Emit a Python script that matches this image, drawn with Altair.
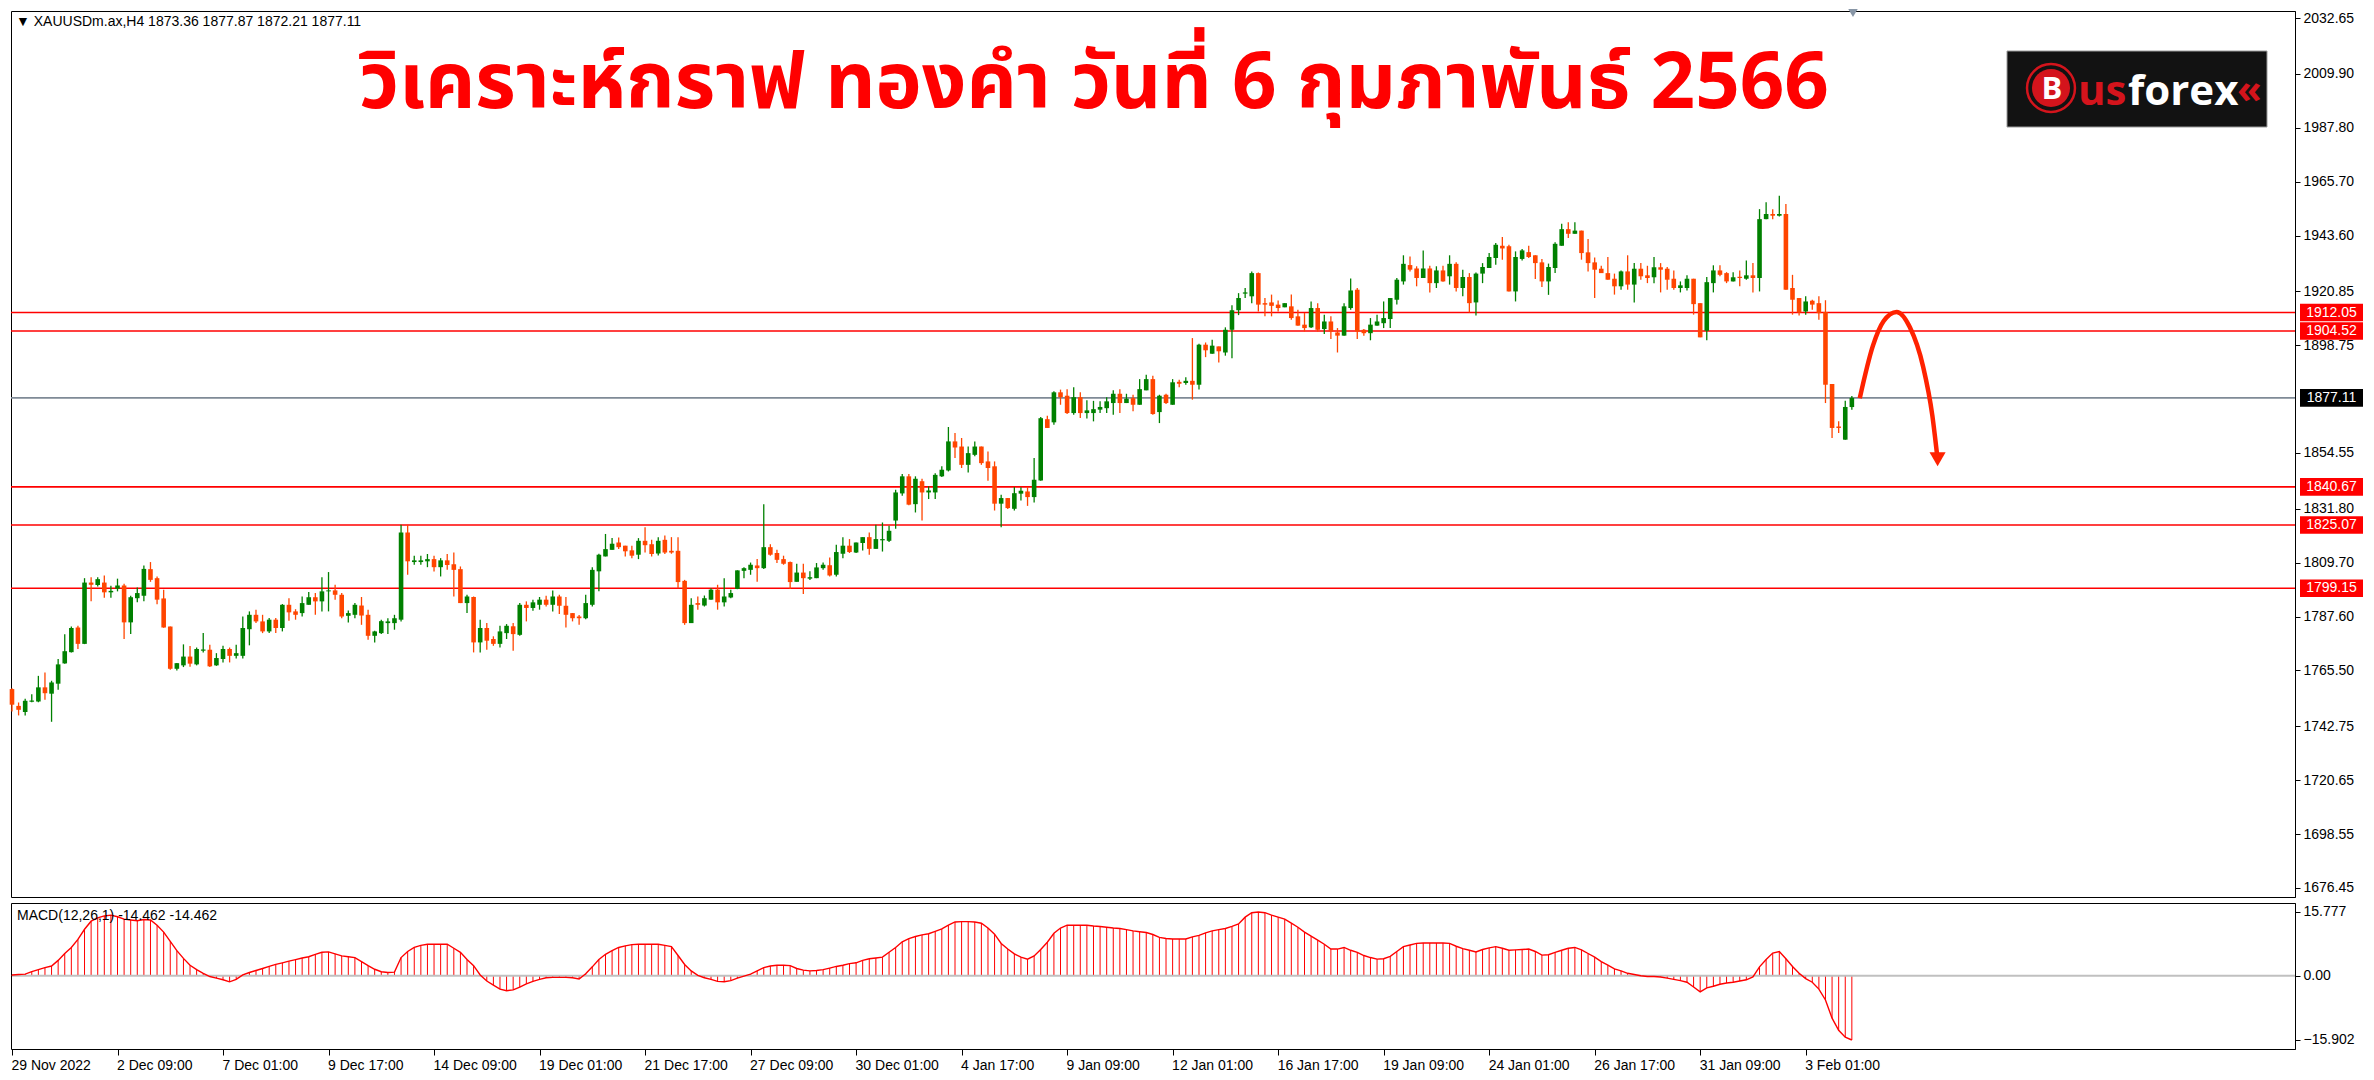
import altair as alt
import pandas as pd

# ---------------- data ----------------
opens = [1757.9,1751.0,1748.5,1752.7,1752.8,1758.6,1756.0,1760.1,1768.4,1773.0,
1783.1,1776.4,1801.5,1800.5,1801.5,1797.5,1799.0,1800.3,1785.2,1795.1,
1796.1,1807.0,1803.3,1795.0,1783.5,1766.2,1767.6,1771.2,1768.0,1773.6,
1774.0,1767.6,1770.2,1774.3,1771.5,1771.5,1782.4,1788.3,1785.6,1781.5,
1786.3,1782.9,1792.4,1789.7,1789.0,1792.4,1795.5,1793.8,1797.9,1798.3,
1796.5,1787.9,1788.3,1792.1,1788.3,1779.7,1780.8,1784.9,1784.9,1786.3,
1822.0,1809.9,1809.9,1810.2,1811.1,1807.8,1810.6,1809.0,1807.0,1793.1,
1795.6,1777.0,1782.9,1778.4,1776.4,1780.8,1783.6,1780.1,1792.4,1791.1,
1792.4,1794.5,1792.4,1795.8,1792.0,1789.0,1787.6,1786.9,1792.4,1806.1,
1812.2,1814.9,1817.9,1816.6,1814.7,1812.9,1818.6,1817.2,1813.4,1819.0,
1814.5,1814.5,1802.2,1784.9,1793.1,1792.1,1794.5,1798.6,1793.4,1795.4,
1798.9,1806.3,1806.7,1808.5,1807.4,1816.0,1813.6,1811.1,1809.9,1801.8,
1805.6,1803.1,1803.3,1807.4,1808.6,1804.7,1813.3,1816.6,1813.8,1817.7,
1820.1,1815.3,1818.8,1818.6,1826.9,1838.0,1845.0,1833.6,1843.0,1838.4,
1838.4,1845.0,1847.4,1859.3,1857.2,1849.7,1853.8,1857.2,1851.1,1849.1,
1833.8,1836.1,1831.7,1837.9,1838.8,1836.5,1843.3,1868.4,1867.1,1879.4,
1878.0,1870.9,1877.4,1870.9,1870.9,1872.3,1872.9,1875.0,1878.8,1875.0,
1877.0,1874.3,1880.2,1884.8,1871.3,1878.4,1874.3,1883.7,1883.2,1884.1,
1882.5,1898.9,1895.2,1898.2,1895.7,1905.0,1913.0,1919.8,1918.7,1928.2,
1915.9,1916.2,1915.3,1914.2,1914.6,1910.5,1907.1,1906.0,1913.9,1905.3,
1908.4,1903.9,1902.6,1913.9,1921.4,1905.0,1903.6,1906.7,1907.7,1909.4,
1917.3,1924.8,1931.5,1930.1,1926.2,1930.1,1924.1,1929.3,1926.9,1932.0,
1922.1,1926.6,1916.2,1928.0,1930.3,1934.4,1939.4,1939.2,1920.7,1934.0,
1936.8,1935.5,1932.6,1924.8,1930.3,1939.4,1946.2,1944.3,1945.6,1936.7,
1932.6,1930.0,1928.2,1925.9,1922.8,1928.9,1923.5,1930.0,1927.3,1926.5,
1930.6,1930.0,1925.9,1922.1,1922.1,1925.9,1915.9,1904.6,1924.1,1929.3,
1928.2,1924.8,1926.7,1925.9,1927.3,1926.2,1950.3,1952.4,1951.7,1952.4,
1922.1,1918.0,1912.5,1916.9,1915.9,1912.3,1882.8,1865.4,1860.0,1873.36]

highs = [1758.2,1752.4,1753.9,1755.8,1763.3,1764.7,1761.3,1770.2,1780.3,1783.5,
1783.8,1803.3,1803.7,1803.7,1804.4,1800.2,1803.1,1801.0,1796.1,1799.5,
1808.5,1809.9,1804.0,1798.6,1783.5,1768.6,1776.2,1775.5,1774.9,1780.8,
1776.0,1772.6,1775.6,1774.9,1776.0,1787.6,1789.7,1790.4,1788.3,1787.0,
1787.0,1792.7,1795.1,1790.6,1795.8,1797.6,1797.2,1803.7,1805.8,1800.6,
1797.2,1790.1,1793.1,1795.6,1790.4,1781.8,1786.3,1786.9,1788.3,1825.2,
1825.2,1812.5,1812.5,1813.2,1812.5,1811.5,1813.2,1813.8,1808.1,1796.5,
1795.8,1786.3,1784.9,1779.5,1783.8,1784.5,1784.9,1793.1,1793.8,1794.5,
1795.6,1796.1,1798.3,1796.5,1795.6,1789.0,1788.2,1796.5,1807.8,1813.3,
1821.4,1819.7,1820.0,1816.6,1816.6,1819.7,1824.2,1819.0,1820.1,1820.8,
1820.1,1820.1,1802.6,1795.1,1795.8,1796.2,1799.2,1800.6,1803.3,1798.6,
1806.5,1807.8,1809.7,1811.1,1833.6,1817.2,1814.9,1812.5,1810.1,1809.2,
1809.2,1806.1,1809.5,1809.7,1811.8,1817.0,1820.1,1819.3,1817.9,1820.1,
1822.0,1825.2,1826.1,1824.8,1839.5,1846.0,1846.0,1845.0,1844.0,1840.9,
1846.3,1849.1,1865.2,1862.7,1860.7,1857.2,1859.3,1857.2,1855.2,1851.1,
1837.5,1836.1,1840.6,1840.5,1840.6,1852.5,1869.3,1869.8,1879.8,1880.5,
1880.7,1881.5,1879.4,1876.1,1875.9,1875.7,1877.4,1880.2,1880.7,1878.8,
1878.4,1884.8,1886.6,1886.2,1878.4,1878.8,1884.8,1884.5,1885.6,1901.6,
1899.3,1899.8,1900.9,1898.2,1906.0,1915.0,1920.0,1922.1,1928.9,1928.5,
1918.0,1919.4,1917.0,1915.9,1919.4,1913.2,1911.9,1916.6,1915.9,1911.2,
1910.5,1905.7,1915.9,1926.0,1922.1,1905.3,1909.8,1911.2,1916.6,1918.0,
1926.2,1935.5,1935.0,1931.0,1937.5,1931.2,1931.0,1931.2,1935.5,1932.6,
1929.6,1928.2,1928.5,1932.3,1936.4,1940.5,1943.0,1939.8,1937.1,1938.1,
1939.4,1935.5,1934.0,1932.1,1940.8,1948.4,1949.0,1949.0,1945.6,1942.2,
1934.6,1931.2,1934.8,1928.0,1929.3,1935.5,1932.3,1932.3,1931.2,1934.8,
1932.3,1930.7,1929.3,1924.8,1927.3,1925.9,1915.9,1926.6,1931.4,1931.4,
1928.6,1928.6,1929.3,1933.4,1932.3,1954.4,1957.2,1954.4,1959.9,1956.5,
1927.5,1918.0,1918.7,1917.3,1918.7,1917.1,1882.8,1867.5,1875.9,1877.87]

lows = [1748.7,1747.1,1747.1,1752.5,1752.5,1753.5,1744.5,1757.6,1768.3,1772.9,
1774.3,1776.3,1793.9,1799.9,1795.3,1795.3,1797.9,1778.4,1780.4,1793.4,
1793.9,1801.8,1792.6,1783.0,1765.8,1765.5,1766.9,1767.0,1767.6,1772.9,
1766.9,1767.4,1768.8,1768.8,1770.4,1770.4,1775.8,1784.9,1780.8,1780.8,
1780.8,1781.5,1785.9,1786.3,1787.6,1792.4,1788.3,1789.7,1789.7,1794.5,
1786.9,1785.2,1786.9,1784.2,1778.1,1777.0,1780.4,1780.4,1782.2,1785.6,
1804.7,1808.8,1808.8,1807.8,1806.0,1804.0,1806.7,1795.8,1793.1,1789.0,
1772.9,1772.9,1774.0,1775.6,1774.9,1778.4,1773.6,1779.7,1785.6,1790.0,
1790.4,1791.7,1789.7,1788.6,1783.1,1785.6,1784.2,1786.5,1791.7,1797.9,
1812.2,1814.9,1815.2,1812.2,1811.5,1811.1,1813.8,1812.2,1812.6,1813.2,
1813.3,1799.2,1784.2,1784.9,1790.4,1791.7,1794.5,1790.4,1791.7,1795.1,
1798.8,1803.3,1804.7,1801.8,1807.1,1812.5,1809.5,1808.8,1798.9,1801.8,
1796.8,1802.6,1803.3,1806.7,1804.0,1804.0,1811.5,1813.6,1813.6,1814.6,
1812.9,1815.3,1814.2,1818.1,1823.5,1837.0,1833.2,1830.2,1826.9,1835.7,
1835.7,1844.7,1847.0,1852.5,1848.4,1846.6,1853.2,1849.7,1843.2,1831.0,
1824.2,1831.6,1831.0,1835.1,1832.9,1834.3,1843.2,1864.8,1866.1,1874.3,
1870.5,1870.2,1868.9,1868.7,1867.5,1870.9,1870.9,1870.2,1870.9,1875.0,
1871.6,1874.3,1880.2,1870.2,1866.8,1874.6,1874.3,1881.5,1882.5,1876.4,
1880.5,1893.8,1895.2,1891.6,1894.4,1893.3,1911.0,1918.0,1915.9,1912.5,
1910.5,1910.5,1912.5,1914.2,1909.1,1906.7,1904.3,1905.7,1904.3,1903.3,
1901.2,1895.7,1902.6,1913.2,1901.2,1902.6,1900.7,1906.7,1905.7,1905.7,
1915.3,1923.5,1928.9,1922.8,1926.2,1920.3,1922.1,1924.7,1923.5,1920.7,
1918.7,1912.1,1910.8,1924.1,1930.3,1931.6,1933.7,1920.7,1916.6,1933.4,
1934.4,1925.8,1922.5,1919.3,1928.2,1939.4,1942.6,1944.3,1933.7,1928.9,
1918.0,1928.2,1925.5,1919.4,1921.4,1921.4,1916.2,1925.5,1924.1,1924.1,
1920.3,1921.4,1921.4,1920.3,1921.1,1911.2,1901.9,1900.7,1920.3,1926.9,
1924.1,1924.8,1922.8,1925.5,1920.3,1920.7,1950.3,1950.3,1951.4,1921.4,
1911.2,1910.8,1911.2,1913.2,1909.1,1875.0,1860.7,1862.7,1860.0,1872.21]

closes = [1751.5,1749.4,1753.1,1753.2,1758.6,1756.2,1760.6,1768.0,1773.4,1782.9,
1776.4,1801.5,1800.6,1802.9,1797.5,1798.1,1800.3,1785.2,1795.5,1797.2,
1807.1,1802.6,1794.5,1783.1,1766.2,1768.5,1771.2,1768.3,1774.3,1774.1,
1767.2,1770.6,1774.3,1771.5,1772.6,1782.9,1788.3,1785.6,1781.5,1786.3,
1782.9,1792.4,1789.3,1788.3,1793.1,1795.5,1793.8,1797.9,1798.3,1796.5,
1787.6,1789.0,1792.4,1788.0,1779.7,1781.5,1785.7,1785.6,1786.9,1822.0,
1810.2,1810.6,1810.6,1811.1,1807.8,1810.6,1808.7,1806.7,1793.1,1795.8,
1777.0,1782.9,1777.7,1776.4,1781.5,1783.8,1780.4,1792.4,1791.1,1793.4,
1794.5,1792.4,1795.8,1792.0,1788.3,1786.9,1786.9,1793.1,1806.7,1812.9,
1815.2,1817.4,1816.0,1814.3,1812.5,1818.6,1816.8,1813.2,1818.6,1813.8,
1813.8,1801.7,1784.9,1792.4,1792.4,1795.1,1798.6,1793.4,1795.8,1797.2,
1806.5,1807.4,1808.8,1807.4,1816.0,1812.9,1810.8,1809.2,1801.7,1805.6,
1803.3,1803.7,1807.7,1808.8,1804.4,1814.0,1816.6,1814.0,1817.9,1820.1,
1815.3,1819.3,1819.3,1822.7,1838.4,1845.0,1833.4,1844.0,1838.4,1839.2,
1845.6,1847.7,1859.3,1856.8,1849.7,1854.5,1857.2,1850.4,1848.4,1833.8,
1836.1,1832.0,1838.1,1839.1,1836.5,1843.6,1868.8,1864.8,1879.4,1877.4,
1870.9,1877.4,1870.9,1872.0,1872.5,1873.4,1875.7,1878.8,1875.0,1876.8,
1874.3,1880.7,1884.8,1870.5,1878.0,1875.0,1883.5,1882.9,1884.1,1882.5,
1898.9,1896.6,1898.5,1896.2,1905.0,1913.0,1918.0,1920.3,1928.2,1915.3,
1915.3,1914.8,1913.9,1915.9,1909.8,1906.7,1905.7,1913.9,1905.0,1908.4,
1904.3,1902.6,1914.6,1921.1,1904.3,1903.6,1907.1,1908.4,1909.8,1918.0,
1925.5,1932.0,1929.6,1926.2,1930.1,1924.1,1929.3,1924.8,1932.0,1922.1,
1926.6,1915.9,1928.0,1930.7,1934.8,1939.8,1938.3,1920.7,1934.8,1937.5,
1934.8,1932.3,1924.8,1930.7,1940.2,1946.2,1944.3,1945.6,1936.4,1932.3,
1929.6,1928.2,1925.5,1922.8,1928.9,1923.5,1930.0,1926.9,1926.2,1930.6,
1929.6,1925.5,1922.1,1923.2,1925.9,1915.5,1901.9,1924.5,1929.3,1927.5,
1924.8,1926.5,1926.2,1927.3,1926.2,1950.3,1952.4,1951.7,1952.4,1921.4,
1917.3,1912.1,1916.6,1915.3,1911.8,1882.5,1864.8,1864.8,1873.4,1877.11]

macd_values = [0.2,0.3,0.4,1.0,1.5,2.0,2.4,3.8,5.5,7.0,
9.0,11.5,13.5,14.3,14.8,15.0,14.6,14.0,13.8,13.6,
13.9,13.8,12.5,10.8,8.5,6.2,4.3,2.6,1.5,0.6,
-0.2,-0.6,-1.0,-1.5,-0.9,0.2,0.8,1.3,1.8,2.3,
2.8,3.2,3.6,4.0,4.4,4.7,5.3,5.8,5.9,5.4,
4.9,4.7,4.5,3.5,2.5,1.6,1.0,0.8,0.9,4.5,
6.0,7.0,7.5,7.8,7.8,7.8,7.8,6.8,5.8,4.0,
2.5,0.2,-1.3,-2.3,-3.3,-3.7,-3.5,-2.8,-2.0,-1.4,
-0.9,-0.5,-0.4,-0.4,-0.4,-0.5,-0.8,0.5,2.2,4.0,
5.3,6.2,7.0,7.4,7.7,7.8,7.8,7.8,7.8,7.5,
7.2,5.0,2.8,1.2,0.1,-0.5,-0.9,-1.4,-1.5,-1.2,
-0.6,-0.1,0.4,1.2,2.0,2.4,2.6,2.6,2.5,1.8,
1.4,1.2,1.3,1.5,1.9,2.3,2.6,3.0,3.2,3.8,
4.2,4.4,4.6,5.8,7.0,8.4,9.2,9.7,10.1,10.4,
11.0,11.6,12.5,13.3,13.4,13.4,13.3,13.0,11.8,10.3,
8.0,6.6,5.4,4.6,4.1,4.9,6.5,8.3,10.5,11.8,
12.5,12.5,12.5,12.5,12.3,12.2,12.0,11.8,11.7,11.4,
11.1,10.9,10.7,10.2,9.5,9.2,9.1,9.1,9.1,9.6,
10.0,10.6,11.1,11.4,11.7,12.2,12.8,14.5,15.6,15.777,
15.6,15.0,14.5,14.0,13.0,12.0,10.8,9.8,8.8,7.8,
6.6,6.6,7.0,6.3,5.8,5.0,4.5,4.1,4.2,4.8,
6.0,7.2,7.6,8.0,8.1,8.1,8.1,8.1,8.0,7.3,
6.7,6.3,5.9,6.5,6.9,7.2,6.8,6.3,6.4,6.5,
6.6,6.0,5.1,5.2,5.8,6.3,6.8,7.0,6.4,5.5,
4.6,3.5,2.6,1.7,1.2,0.6,0.3,0.0,-0.2,-0.2,
-0.3,-0.6,-0.9,-1.2,-1.6,-2.8,-4.0,-3.0,-2.6,-2.1,
-1.8,-1.6,-1.3,-1.0,-0.3,2.2,4.0,5.6,6.0,4.2,
2.3,0.6,-0.7,-1.6,-3.3,-6.0,-10.5,-13.5,-15.2,-15.902]

red_levels = [1912.05, 1904.52, 1840.67, 1825.07, 1799.15]
current_price = 1877.11
price_ticks = [2032.65, 2009.90, 1987.80, 1965.70, 1943.60, 1920.85, 1898.75,
               1854.55, 1831.80, 1809.70, 1787.60, 1765.50, 1742.75, 1720.65,
               1698.55, 1676.45]
macd_ticks = [15.777, 0.0, -15.902]
date_tick_bars = [0, 16, 32, 48, 64, 80, 96, 112, 128, 144, 160, 176, 192, 208, 224, 240, 256, 272]
date_tick_labels = ["29 Nov 2022", "2 Dec 09:00", "7 Dec 01:00", "9 Dec 17:00", "14 Dec 09:00",
                    "19 Dec 01:00", "21 Dec 17:00", "27 Dec 09:00", "30 Dec 01:00", "4 Jan 17:00",
                    "9 Jan 09:00", "12 Jan 01:00", "16 Jan 17:00", "19 Jan 09:00", "24 Jan 01:00",
                    "26 Jan 17:00", "31 Jan 09:00", "3 Feb 01:00"]
arrow_bar = [280.2, 282.2, 283.8, 285.8, 287.8, 289.8, 291.2, 292.0]
arrow_price = [1877.0, 1898.5, 1908.5, 1912.3, 1906.0, 1890.0, 1870.0, 1852.0]

title_text = "วิเคราะห์กราฟ ทองคำ วันที่ 6 กุมภาพันธ์ 2566"
header_text = "\u25BC XAUUSDm.ax,H4  1873.36 1877.87 1872.21 1877.11"
macd_text = "MACD(12,26,1) -14.462 -14.462"

# ---------------- layout ----------------
W = 2284
H1 = 886
H2 = 146
AXFONT = "Liberation Sans"
GREEN = "#008000"
ORANGE = "#ff4500"
RED = "#ff0000"

df = pd.DataFrame({"i": list(range(len(opens))), "o": opens, "h": highs, "l": lows, "c": closes})
df["col"] = [GREEN if c >= o else ORANGE for o, c in zip(opens, closes)]

xscale = alt.Scale(domain=[-0.15, 346.2], nice=False, zero=False)
yscale = alt.Scale(domain=[1672.76, 2035.52], nice=False, zero=False)

y_axis_main = alt.Axis(orient="right", values=price_ticks, labelExpr="format(datum.value, '.2f')",
                       grid=False, tickSize=5, tickColor="#000", domainColor="#000", title=None,
                       labelFont=AXFONT, labelFontSize=14, labelColor="#000", labelPadding=3)

one = pd.DataFrame({"k": [0]})

levels_df = pd.DataFrame({"p": red_levels + [current_price]})
levels_df["line_col"] = [RED] * len(red_levels) + ["#7f8a96"]
levels_df["tag_col"] = [RED] * len(red_levels) + ["#000000"]

level_lines = alt.Chart(levels_df).mark_rule(strokeWidth=1.6).encode(
    y=alt.Y("p:Q", scale=yscale, title=None, axis=y_axis_main),
    color=alt.Color("line_col:N", scale=None),
)

wicks = alt.Chart(df).mark_rule(strokeWidth=1.3).encode(
    x=alt.X("i:Q", scale=xscale, axis=None, title=None),
    y=alt.Y("l:Q", scale=yscale, title=None, axis=y_axis_main),
    y2="h:Q",
    color=alt.Color("col:N", scale=None),
)
bodies = alt.Chart(df).mark_rule(strokeWidth=4.6, strokeCap="butt").encode(
    x=alt.X("i:Q", scale=xscale, axis=None, title=None),
    y=alt.Y("o:Q", scale=yscale, title=None, axis=y_axis_main),
    y2="c:Q",
    color=alt.Color("col:N", scale=None),
)

arrow_df = pd.DataFrame({"i": arrow_bar, "p": arrow_price})
arrow_line = alt.Chart(arrow_df).mark_line(color="#ff2200", strokeWidth=4.5, interpolate="monotone").encode(
    x=alt.X("i:Q", scale=xscale, axis=None, title=None),
    y=alt.Y("p:Q", scale=yscale, title=None, axis=y_axis_main),
)
arrow_head = alt.Chart(arrow_df.tail(1)).mark_point(shape="triangle-down", filled=True, color="#ff2200",
                                                    size=260, opacity=1).encode(
    x=alt.X("i:Q", scale=xscale, axis=None, title=None),
    y=alt.Y("p:Q", scale=yscale, title=None, axis=y_axis_main),
)

shift_mark = alt.Chart(one).mark_point(shape="triangle-down", filled=True, color="#8896a6",
                                       size=90, opacity=1).encode(
    x=alt.value(1842), y=alt.value(2))

header = alt.Chart(one).mark_text(align="left", baseline="middle", font=AXFONT, fontSize=14,
                                  color="#000").encode(
    x=alt.value(5), y=alt.value(11), text=alt.value(header_text))

title = alt.Chart(one).mark_text(align="center", baseline="middle",
                                 font="Noto Sans Thai, Noto Sans, sans-serif", fontSize=78,
                                 fontWeight="bold", color="#ff0000").encode(
    x=alt.value(1083), y=alt.value(74), text=alt.value(title_text))

logo_box = alt.Chart(one).mark_rect(color="#121212", stroke="#9a9a9a", strokeWidth=1).encode(
    x=alt.value(1996), x2=alt.value(2256), y=alt.value(40), y2=alt.value(116))
logo_circle = alt.Chart(one).mark_point(shape="circle", filled=True, color="#d4141c", size=1450,
                                        opacity=1).encode(x=alt.value(2040), y=alt.value(77))
logo_ring = alt.Chart(one).mark_point(shape="circle", filled=False, color="#d4141c", size=2300,
                                      strokeWidth=2.5, opacity=1).encode(x=alt.value(2040), y=alt.value(77))
logo_b = alt.Chart(one).mark_text(align="center", baseline="middle", font="Open Sans", fontSize=31,
                                  fontWeight="bold", color="#ffffff").encode(
    x=alt.value(2041), y=alt.value(79), text=alt.value("B"))
logo_us = alt.Chart(one).mark_text(align="left", baseline="alphabetic", font="Open Sans", fontSize=42,
                                   fontWeight="bold", color="#d4141c").encode(
    x=alt.value(2067), y=alt.value(94), text=alt.value("us"))
logo_forex = alt.Chart(one).mark_text(align="left", baseline="alphabetic", font="Open Sans", fontSize=42,
                                      fontWeight="bold", color="#ffffff").encode(
    x=alt.value(2117), y=alt.value(94), text=alt.value("forex"))
logo_chev = alt.Chart(one).mark_text(align="left", baseline="alphabetic", font="Open Sans", fontSize=40,
                                     fontWeight="bold", color="#d4141c").encode(
    x=alt.value(2226), y=alt.value(92), text=alt.value("\u00AB"))

tag_base = alt.Chart(levels_df).transform_calculate(
    lo="datum.p - 3.6", hi="datum.p + 3.6", lab="format(datum.p, '.2f')")
tag_rect = tag_base.mark_rect().encode(
    x=alt.value(W + 5), x2=alt.value(W + 68),
    y=alt.Y("lo:Q", scale=yscale, title=None, axis=y_axis_main), y2="hi:Q",
    color=alt.Color("tag_col:N", scale=None))
tag_text = tag_base.mark_text(align="center", baseline="middle", font=AXFONT, fontSize=14,
                              color="#ffffff").encode(
    x=alt.value(W + 36.5), y=alt.Y("p:Q", scale=yscale, title=None, axis=y_axis_main), text="lab:N")

main = alt.layer(
    level_lines, wicks, bodies, arrow_line, arrow_head, shift_mark, header, title,
    logo_box, logo_ring, logo_circle, logo_b, logo_us, logo_forex, logo_chev, tag_rect, tag_text
).properties(width=W, height=H1)

# ---------------- MACD panel ----------------
mdf = pd.DataFrame({"i": list(range(len(macd_values))), "m": macd_values, "zero": [0.0] * len(macd_values)})
mscale = alt.Scale(domain=[-18.13, 18.0], nice=False, zero=False)

label_expr = ""
for b, lab in zip(date_tick_bars, date_tick_labels):
    label_expr += f"datum.value == {b} ? '{lab}' : "
label_expr += "''"

x_axis_macd = alt.Axis(orient="bottom", values=date_tick_bars, labelExpr=label_expr, title=None,
                       labelAlign="left", labelOffset=-1, labelFlush=False, labelOverlap=False,
                       labelBound=False, grid=False, domain=False, tickSize=6, tickColor="#000",
                       labelFont=AXFONT, labelFontSize=14, labelColor="#000", labelPadding=3)
y_axis_macd = alt.Axis(orient="right", values=macd_ticks, title=None,
                       labelExpr="datum.value == 0 ? '0.00' : format(datum.value, '.3f')",
                       grid=False, tickSize=5, tickColor="#000", domainColor="#000",
                       labelFont=AXFONT, labelFontSize=14, labelColor="#000", labelPadding=3)

macd_base = alt.Chart(mdf)
zero_line = macd_base.mark_rule(color="#c0c0c0", strokeWidth=2).encode(
    x=alt.X("min(i):Q", scale=xscale, axis=x_axis_macd, title=None),
    x2=alt.value(W),
    y=alt.Y("min(zero):Q", scale=mscale, axis=y_axis_macd, title=None),
)
macd_bars = macd_base.mark_rule(color=RED, strokeWidth=1).encode(
    x=alt.X("i:Q", scale=xscale, axis=x_axis_macd, title=None),
    y=alt.Y("m:Q", scale=mscale, axis=y_axis_macd, title=None),
    y2="zero:Q",
)
macd_line = macd_base.mark_line(color=RED, strokeWidth=1.4).encode(
    x=alt.X("i:Q", scale=xscale, axis=x_axis_macd, title=None),
    y=alt.Y("m:Q", scale=mscale, axis=y_axis_macd, title=None),
)
macd_label = alt.Chart(one).mark_text(align="left", baseline="middle", font=AXFONT, fontSize=14,
                                      color="#000").encode(
    x=alt.value(6), y=alt.value(13), text=alt.value(macd_text))

macd_panel = alt.layer(macd_bars, zero_line, macd_line, macd_label).properties(width=W, height=H2)

chart = alt.vconcat(main, macd_panel, spacing=4).properties(
    padding=0, background="#ffffff"
).configure_view(stroke="#000000", strokeWidth=1)

chart.save("out.html", embed_options={"renderer": "svg", "actions": False})
